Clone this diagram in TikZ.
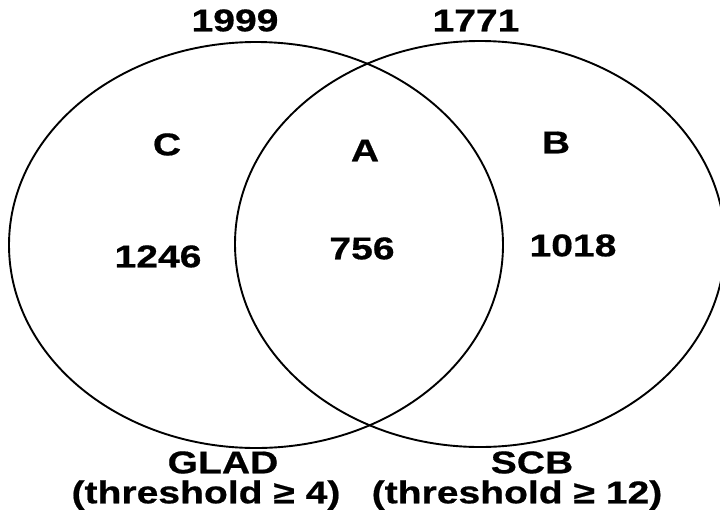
\documentclass[tikz,border=0pt]{standalone}
\usepackage{fontspec}
\newfontfamily\vennfont{Liberation Sans}[FakeStretch=1.24, BoldFeatures={FakeBold=0.6}]
\usetikzlibrary{shapes.geometric}
\begin{document}
\begin{tikzpicture}[x=1pt,y=-1pt,
  set/.style={draw=black, line width=1.9pt, ellipse, inner sep=0pt},
  lab/.style={font=\vennfont\bfseries\fontsize{31.5}{38}\selectfont,
              inner sep=0pt, text height=22.6pt, text depth=0pt}]
\useasboundingbox (0,0) rectangle (720,528);

% the two sets
\node[set, minimum width=494pt, minimum height=406pt] (glad) at (256,245) {};
\node[set, minimum width=490pt, minimum height=406pt] (scb) at (480,244) {};

% set sizes
\node[lab] (nglad) at (235,20) {1999};
\node[lab] (nscb) at (476,20) {1771};

% region letters
\node[lab] (c) at (167,144) {C};
\node[lab] (a) at (365,150) {A};
\node[lab] (b) at (556,142) {B};

% region counts
\node[lab] (nc) at (158,256) {1246};
\node[lab] (na) at (362,248) {756};
\node[lab] (nb) at (573,245) {1018};

% set names
\node[lab] (tglad) at (223,462) {GLAD};
\node[lab] (thglad) at (206,492) {(threshold ≥ 4)};
\node[lab] (tscb) at (532,462) {SCB};
\node[lab] (thscb) at (517,492) {(threshold ≥ 12)};
\end{tikzpicture}
\end{document}
